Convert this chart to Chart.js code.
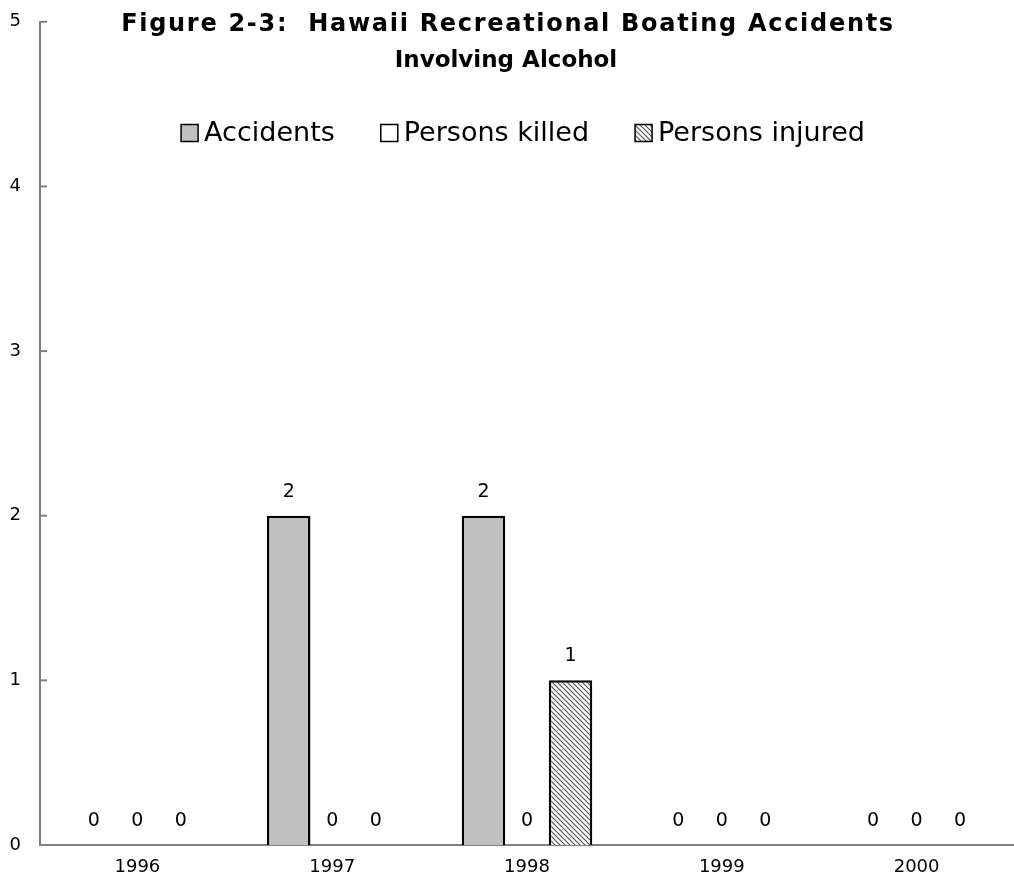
<!DOCTYPE html>
<html>
<head>
<meta charset="utf-8">
<script src="https://cdn.jsdelivr.net/npm/chart.js@4"></script>
<style>
  html, body { margin: 0; padding: 0; background: #fff; }
  #wrap { width: 1014px; height: 888px; }
</style>
</head>
<body>
<div id="wrap"><canvas id="c" width="1014" height="888"></canvas></div>
<script>
// Hawaii boating accidents involving alcohol, 1996-2000

const years = ['1996', '1997', '1998', '1999', '2000'];
const accidents = [0, 2, 2, 0, 0];
const killed = [0, 0, 0, 0, 0];
const injured = [0, 0, 1, 0, 0];
const titleLines = ['Figure 2-3:  Hawaii Recreational Boating Accidents', 'Involving Alcohol'];
const yTicks = [0, 1, 2, 3, 4, 5];

const FONT = '"DejaVu Sans", sans-serif';

function hatch() {
  const p = document.createElement('canvas');
  p.width = 5; p.height = 5;
  const g = p.getContext('2d');
  g.fillStyle = '#fff';
  g.fillRect(0, 0, 5, 5);
  g.strokeStyle = '#555';
  g.lineWidth = 1.2;
  g.beginPath();
  g.moveTo(-1, -1); g.lineTo(6, 6);
  g.moveTo(-1, 4); g.lineTo(1, 6);
  g.moveTo(4, -1); g.lineTo(6, 1);
  g.stroke();
  return g.createPattern(p, 'repeat');
}

const overlay = {
  id: 'overlay',
  afterDatasetsDraw(chart) {
    const ctx = chart.ctx;
    ctx.save();
    ctx.fillStyle = '#000';
    ctx.font = '19px ' + FONT;
    ctx.textAlign = 'center';
    ctx.textBaseline = 'middle';
    chart.data.datasets.forEach((ds, i) => {
      chart.getDatasetMeta(i).data.forEach((el, j) => {
        ctx.fillText(String(ds.data[j]), el.x, el.y - 24);
      });
    });
    // inward tick marks on the y axis
    const y = chart.scales.y, left = chart.chartArea.left;
    ctx.strokeStyle = '#808080';
    ctx.lineWidth = 2;
    for (const v of yTicks) {
      const py = y.getPixelForValue(v);
      ctx.beginPath(); ctx.moveTo(left, py); ctx.lineTo(left + 7, py); ctx.stroke();
    }
    ctx.restore();
  },
  afterDraw(chart) {
    const ctx = chart.ctx;
    ctx.save();
    ctx.fillStyle = '#000';
    ctx.textBaseline = 'middle';
    ctx.textAlign = 'center';
    ctx.font = 'bold 24px ' + FONT;
    ctx.letterSpacing = '1.7px';
    ctx.fillText(titleLines[0], 508, 25);
    ctx.letterSpacing = '0px';
    ctx.font = 'bold 23px ' + FONT;
    ctx.fillText(titleLines[1], 506, 61);

    // legend
    ctx.font = '27px ' + FONT;
    ctx.textAlign = 'left';
    const box = 17, gap = 6, spacing = 46;
    const items = chart.data.datasets;
    const widths = items.map(d => box + gap + ctx.measureText(d.label).width);
    const total = widths.reduce((a, b) => a + b, 0) + spacing * (items.length - 1);
    let x = 523 - total / 2;
    const cy = 133;
    items.forEach((d, i) => {
      ctx.fillStyle = d.backgroundColor;
      ctx.fillRect(x, cy - box / 2, box, box);
      ctx.strokeStyle = '#000';
      ctx.lineWidth = 1.5;
      ctx.strokeRect(x, cy - box / 2, box, box);
      ctx.fillStyle = '#000';
      ctx.fillText(d.label, x + box + gap, cy + 1);
      x += widths[i] + spacing;
    });
    ctx.restore();
  }
};

new Chart(document.getElementById('c'), {
  type: 'bar',
  data: {
    labels: years,
    datasets: [
      { label: 'Accidents', data: accidents, backgroundColor: '#c0c0c0', borderColor: '#000', borderWidth: 2.5 },
      { label: 'Persons killed', data: killed, backgroundColor: '#ffffff', borderColor: '#000', borderWidth: 2.5 },
      { label: 'Persons injured', data: injured, backgroundColor: hatch(), borderColor: '#000', borderWidth: 2.5 },
    ],
  },
  options: {
    responsive: false, animation: false,
    layout: { padding: { left: 0, top: 21, right: 0, bottom: 0 } },
    datasets: { bar: { categoryPercentage: 0.67, barPercentage: 1.0 } },
    scales: {
      x: {
        grid: { display: false },
        border: { color: '#808080', width: 2 },
        ticks: { color: '#000', font: { size: 18, family: FONT }, padding: 4 },
        afterFit(s) { s.height = 43; },
      },
      y: {
        min: 0, max: 5,
        grid: { display: false },
        border: { color: '#808080', width: 2 },
        ticks: { stepSize: 1, color: '#000', font: { size: 18, family: FONT }, padding: 11 },
        afterFit(s) { s.width = 40; },
      },
    },
    plugins: { legend: { display: false }, title: { display: false }, tooltip: { enabled: false } },
  },
  plugins: [overlay],
});
</script>
</body>
</html>
